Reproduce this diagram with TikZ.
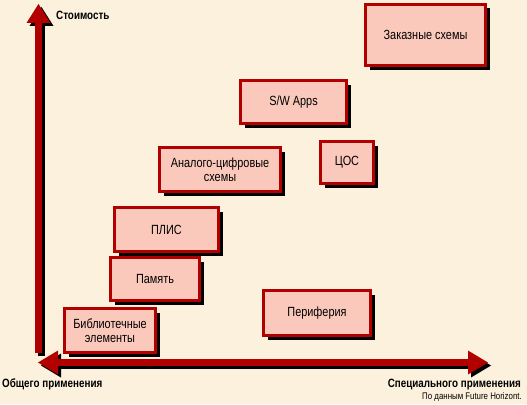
\documentclass[tikz,border=0pt]{standalone}
\usepackage{fontspec}
\setmainfont{Liberation Sans}[FakeStretch=0.82]
\usetikzlibrary{arrows.meta,positioning,shadows,calc}
\definecolor{axisred}{RGB}{178,0,0}
\definecolor{boxpink}{RGB}{251,201,188}
\definecolor{cream}{RGB}{252,241,220}

\begin{document}
\begin{tikzpicture}[
  x=1pt, y=-1pt,
  box/.style={rectangle, draw=axisred, line width=3pt, fill=boxpink,
              align=center, inner sep=2pt,
              font=\fontsize{13.3}{14}\selectfont,
              drop shadow={shadow xshift=4pt, shadow yshift=-4pt,
                           opacity=1, fill=black}},
  axis/.style={line width=7pt, draw=axisred},
  axisshadow/.style={line width=7pt, draw=black},
  vtip/.style={-{Triangle[length=19pt, width=24pt, line width=0pt]}},
  htip/.style={{Triangle[length=20pt, width=24pt, line width=0pt]}-{Triangle[length=20pt, width=24pt, line width=0pt]}},
  axislabel/.style={inner sep=0pt, font=\bfseries\fontsize{12}{14}\selectfont},
  note/.style={inner sep=0pt, font=\fontsize{9.6}{11}\selectfont}
]
\fill[cream] (0,0) rectangle (527,404);
\useasboundingbox (0,0) rectangle (527,404);

\coordinate (ybot) at (38.5,353);
\coordinate (ytop) at (38.5,4);
\coordinate (xleft) at (38,362.5);
\coordinate (xright) at (488,362.5);

\draw[axisshadow, vtip] ($(ybot)+(3,3)$) -- ($(ytop)+(3,3)$);
\draw[axis, vtip] (ybot) -- (ytop);
\draw[axisshadow, htip] ($(xleft)+(3,3)$) -- ($(xright)+(3,3)$);
\draw[axis, htip] (xleft) -- (xright);

\node[box, minimum width=120pt, minimum height=61pt] (custom) at (425.5,35) {Заказные схемы};
\node[box, minimum width=106pt, minimum height=43pt] (swapps) at (293.5,102) {S/W Apps};
\node[box, minimum width=121pt, minimum height=44pt] (adc) at (220,169.5) {Аналого-цифровые\\схемы};
\node[box, minimum width=53pt, minimum height=42pt] (dsp) at (347,162.5) {ЦОС};
\node[box, minimum width=104pt, minimum height=44pt] (fpga) at (166.5,229.5) {ПЛИС};
\node[box, minimum width=89pt, minimum height=43pt] (memory) at (155,279) {Память};
\node[box, minimum width=91pt, minimum height=44pt] (library) at (110,330.5) {Библиотечные\\элементы};
\node[box, minimum width=107pt, minimum height=45pt] (periph) at (317,313) {Периферия};

\node[axislabel, anchor=west] (costlbl) at (56,15.5) {Стоимость};
\node[axislabel, anchor=west] (generallbl) at (2,384.5) {Общего применения};
\node[axislabel, anchor=east] (speciallbl) at (521,384.5) {Специального применения};
\node[note, below=2pt of speciallbl.south east, anchor=north east, xshift=1pt] (source) {По данным Future Horizont.};
\end{tikzpicture}
\end{document}
